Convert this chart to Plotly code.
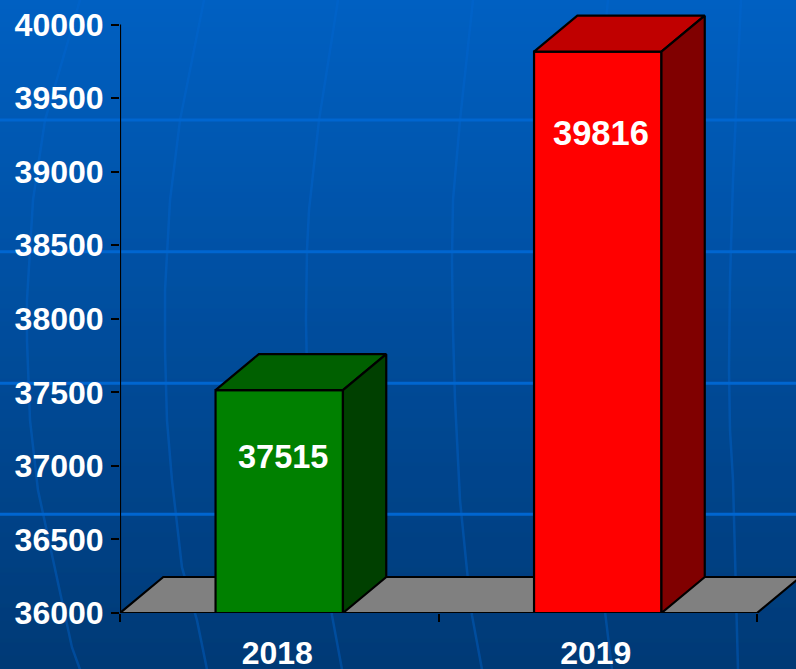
import plotly.graph_objects as go

categories = ["2018", "2019"]
values = [37515, 39816]
front_colors = ["#008000", "#ff0000"]
top_colors = ["#006000", "#c00000"]
side_colors = ["#004000", "#800000"]
y_ticks = [36000, 36500, 37000, 37500, 38000, 38500, 39000, 39500, 40000]

W, H = 796, 669
L, R, T, B = 120, 757, 24.6, 612.6
Y0, Y1 = 36000, 40000
PX_PER_CAT = (R - L) / 2
PX_PER_VAL = (B - T) / (Y1 - Y0)
BAR_W = 0.4
DX = 43.3 / PX_PER_CAT
DY = 36 / PX_PER_VAL
BLACK = dict(color="black", width=2.2)
# The plot area runs to the window's right and top edges so the depth faces are not clipped.
X_MAX = -0.5 + (W - L) / PX_PER_CAT
Y_MAX = Y0 + B / PX_PER_VAL

idx = list(range(len(categories)))
fig = go.Figure()

fig.add_trace(go.Scatter(
    x=[-0.5, -0.5 + DX, 1.5 + DX, 1.5, -0.5],
    y=[Y0, Y0 + DY, Y0 + DY, Y0, Y0],
    mode="lines", fill="toself", fillcolor="#808080", line=BLACK,
    hoverinfo="skip", showlegend=False,
))

fig.add_trace(go.Bar(
    x=idx, y=values, width=BAR_W, xaxis="x2",
    marker=dict(color=front_colors, line=BLACK),
    showlegend=False, hoverinfo="skip",
))

for i, v in zip(idx, values):
    a, b = i - BAR_W / 2, i + BAR_W / 2
    fig.add_trace(go.Scatter(
        x=[a, a + DX, b + DX, b, a], y=[v, v + DY, v + DY, v, v],
        xaxis="x2", mode="lines", fill="toself", fillcolor=top_colors[i],
        line=BLACK, hoverinfo="skip", showlegend=False,
    ))
    fig.add_trace(go.Scatter(
        x=[b, b + DX, b + DX, b, b], y=[v, v + DY, Y0 + DY, Y0, v],
        xaxis="x2", mode="lines", fill="toself", fillcolor=side_colors[i],
        line=BLACK, hoverinfo="skip", showlegend=False,
    ))

shapes = []
TOP_RGB, BOT_RGB = (0, 96, 194), (0, 58, 118)
def px(x): return (x - L) / (W - L)
def py(y): return (B - y) / B
for y in range(H):
    f = y / (H - 1)
    c = [round(TOP_RGB[k] + (BOT_RGB[k] - TOP_RGB[k]) * f) for k in range(3)]
    shapes.append(dict(type="rect", xref="paper", yref="paper", layer="below",
                       x0=px(-2), x1=px(W + 2), y0=py(y + 2), y1=py(y if y else -2),
                       fillcolor=f"rgb({c[0]},{c[1]},{c[2]})", line_width=0))

arcs = [
    [(80, 0), (45, 120), (33, 200), (27, 300), (27, 340), (30, 420), (38, 490), (72, 647), (80, 669)],
    [(204, 0), (180, 120), (170, 200), (165, 290), (165, 350), (167, 420), (172, 480), (182, 567), (197, 620), (207, 669)],
    [(338, 0), (319, 120), (309, 210), (307, 250), (306, 320), (308, 420), (314, 500), (332, 615), (342, 669)],
    [(473, 0), (460, 120), (453, 200), (452, 260), (453, 330), (455, 400), (460, 500), (467, 570), (472, 615), (482, 669)],
    [(608, 0), (596, 120), (590, 220), (589, 330), (592, 430), (600, 570), (612, 669)],
    [(741, 0), (733, 180), (730, 280), (729, 370), (730, 430), (733, 480), (738, 669)],
]
for arc in arcs:
    d = "M" + " L".join(f"{px(x):.4f},{py(y):.4f}" for x, y in arc)
    shapes.append(dict(type="path", xref="paper", yref="paper", layer="below", path=d,
                       line=dict(color="rgba(0,102,210,0.4)", width=2.5)))

for y in [120, 251.7, 383, 514]:
    shapes.append(dict(type="line", xref="paper", yref="paper", layer="below",
                       x0=px(-2), x1=px(W + 2), y0=py(y), y1=py(y),
                       line=dict(color="#0066d0", width=3)))

# axis spines
shapes.append(dict(type="line", xref="x", yref="y", layer="above", x0=-0.5, x1=-0.5, y0=Y0, y1=Y1, line=BLACK))
shapes.append(dict(type="line", xref="x", yref="y", layer="above", x0=-0.5, x1=1.5, y0=Y0, y1=Y0, line=BLACK))

label_shift_y = [-67, -81]
label_shift_x = [4, 3]
label_sizes = [32.5, 34.5]
annotations = [
    dict(x=i, y=v, xref="x2", yref="y", text=f"<b>{v}</b>", showarrow=False, xshift=label_shift_x[i],
         yshift=label_shift_y[i], font=dict(family="Liberation Sans", size=label_sizes[i], color="white"))
    for i, v in zip(idx, values)
]

font = dict(family="Liberation Sans", size=32, color="white", weight="bold")
fig.update_layout(
    width=W, height=H,
    margin=dict(l=L, r=0, t=0, b=H - B, pad=0),
    paper_bgcolor="#004a90", plot_bgcolor="rgba(0,0,0,0)",
    shapes=shapes, annotations=annotations, showlegend=False,
    xaxis=dict(type="linear", range=[-0.5, X_MAX], tickmode="array", automargin=False,
               tickvals=[-0.5, 0.5, 1.5], ticktext=["", "", ""],
               ticks="outside", ticklen=8, tickwidth=2, tickcolor="black",
               showline=False, showgrid=False, zeroline=False),
    xaxis2=dict(type="linear", range=[-0.5, X_MAX], overlaying="x", side="bottom", automargin=False,
                tickmode="array", tickvals=idx, ticktext=categories, ticks="",
                tickfont=font, ticklabelstandoff=18, ticklabelshift=-2,
                showline=False, showgrid=False, zeroline=False),
    yaxis=dict(range=[Y0, Y_MAX], tickmode="array", tickvals=y_ticks, automargin=False,
               ticks="outside", ticklen=8, tickwidth=2, tickcolor="black",
               tickfont=font, ticklabelstandoff=1, tickformat="d",
               showline=False, showgrid=False, zeroline=False),
)
fig.write_html("out.html", config=dict(displayModeBar=False),
               post_script="document.body.style.margin='0';document.documentElement.style.overflow='hidden';")
